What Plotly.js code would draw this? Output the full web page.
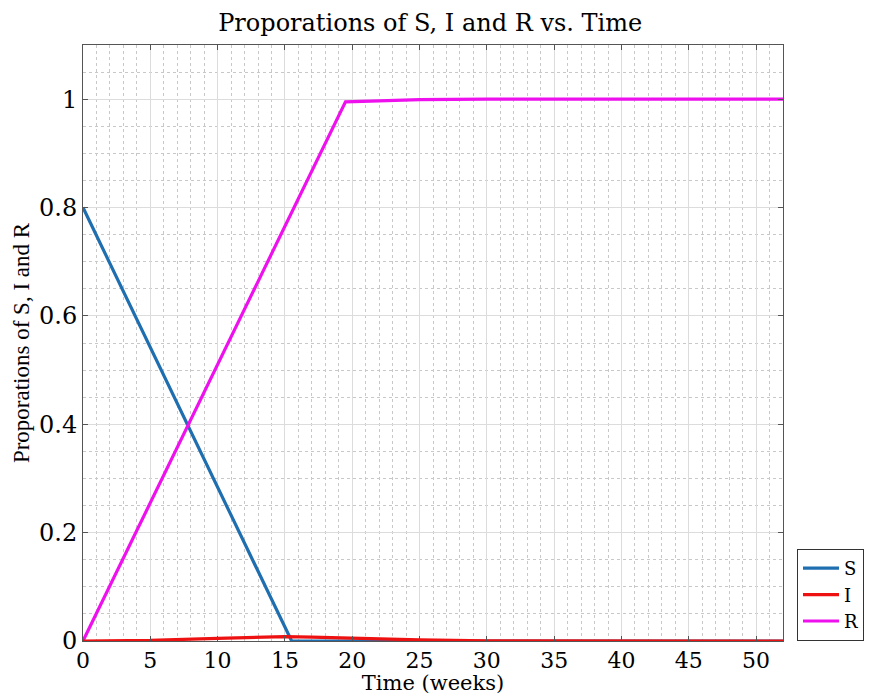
<!DOCTYPE html>
<html><head><meta charset="utf-8">
<script src="https://cdn.plot.ly/plotly-3.0.1.min.js"></script>
<style>body{margin:0;padding:0;background:#fff}#chart{width:877px;height:695px}</style>
</head><body><div id="chart"></div>
<script>
const tS = [0, 15.5, 20, 30, 52];
const S  = [0.8, 0.0, 0.0, 0.0, 0.0];
const tI = [0, 5, 10, 13, 15, 17, 20, 25, 30, 40, 52];
const I  = [0, 0.001, 0.005, 0.007, 0.008, 0.007, 0.005, 0.002, 0.0005, 0, 0];
const tR = [0, 19.5, 22, 25, 30, 40, 52];
const R  = [0, 0.995, 0.997, 0.999, 1.0, 1.0, 1.0];
const names = ['S', 'I', 'R'];
const colors = ['#1f6fb0', '#ee1111', '#ee11ee'];
const xTicks = [0, 5, 10, 15, 20, 25, 30, 35, 40, 45, 50];
const yTicks = [0, 0.2, 0.4, 0.6, 0.8, 1];
const yTickText = ['0', '0.2', '0.4', '0.6', '0.8', '1'];

const serif = 'DejaVu Serif, serif';
const times = 'Liberation Serif, serif';
const series = [[tS, S], [tI, I], [tR, R]];
const traces = series.map((s, i) => ({
  x: s[0], y: s[1], type: 'scatter', mode: 'lines', name: names[i],
  line: {color: colors[i], width: 3.2}, legendrank: i + 1
}));
// draw order: S, R, I on top
const data = [traces[0], traces[2], traces[1]];

const layout = {
  width: 877, height: 695,
  margin: {l: 83, r: 94, t: 45, b: 54},
  paper_bgcolor: '#fff', plot_bgcolor: '#fff',
  font: {family: serif, size: 20, color: '#000'},
  title: {text: 'Proporations of S, I and R vs. Time', x: 0.496, xanchor: 'center', xref: 'paper', y: 0.968, yanchor: 'middle', font: {family: serif, size: 24}},
  showlegend: true,
  legend: {x: 1.02, xanchor: 'left', y: 0, yanchor: 'bottom', bordercolor: '#333', borderwidth: 1, bgcolor: '#fff',
    font: {family: serif, size: 18}, traceorder: 'normal', tracegroupgap: 0, itemwidth: 36},
  xaxis: {
    range: [0, 52], tickvals: xTicks, ticktext: xTicks.map(String),
    showline: true, mirror: 'ticks', linecolor: '#555', linewidth: 1,
    ticks: 'inside', ticklen: 5, tickcolor: '#555',
    showgrid: true, gridcolor: '#dcdcdc', gridwidth: 1, zeroline: false,
    minor: {dtick: 1, showgrid: true, gridcolor: '#c8c8c8', griddash: 'dot', gridwidth: 1},
    title: {text: 'Time (weeks)', standoff: 4, font: {family: serif, size: 21}},
    tickfont: {family: serif, size: 22}
  },
  yaxis: {
    range: [0, 1.1], tickvals: yTicks, ticktext: yTickText,
    showline: true, mirror: 'ticks', linecolor: '#555', linewidth: 1,
    ticks: 'inside', ticklen: 5, tickcolor: '#555',
    showgrid: true, gridcolor: '#dcdcdc', gridwidth: 1, zeroline: false,
    minor: {dtick: 0.05, showgrid: true, gridcolor: '#c8c8c8', griddash: 'dot', gridwidth: 1},
    title: {text: 'Proporations of S, I and R', standoff: 2, font: {family: times, size: 23}},
    tickfont: {family: serif, size: 24}
  }
};
Plotly.newPlot('chart', data, layout, {displayModeBar: false, staticPlot: true});
</script></body></html>
